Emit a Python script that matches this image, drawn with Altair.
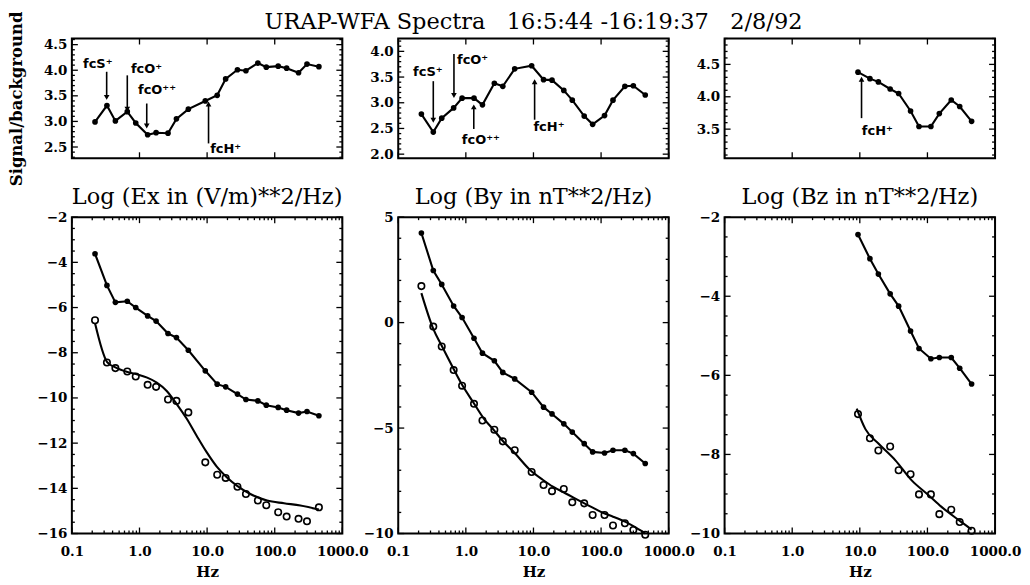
import altair as alt
import numpy as np
import pandas as pd

# ---------------- data ----------------
FREQ = [0.22, 0.33, 0.44, 0.66, 0.88, 1.32, 1.76, 2.64, 3.52, 5.28,
        9.4, 14.1, 18.8, 28.1, 37.5, 56.3, 75.0, 112.5, 150.0, 225.0, 300.0, 450.0]
FREQ_HI = [9.4, 14.1, 18.8, 28.1, 37.5, 56.3, 75.0, 112.5, 150.0, 225.0, 300.0, 450.0]

# signal / background ratios (top row)
SB_EX = [2.99, 3.31, 3.01, 3.19, 2.97, 2.74, 2.78, 2.77, 3.05, 3.24, 3.40,
         3.51, 3.83, 4.01, 3.99, 4.14, 4.06, 4.08, 4.04, 3.95, 4.12, 4.07]
SB_BY = [2.78, 2.43, 2.70, 2.90, 3.09, 3.09, 2.96, 3.38, 3.32, 3.66, 3.72,
         3.45, 3.44, 3.24, 3.05, 2.74, 2.58, 2.75, 3.05, 3.32, 3.33, 3.15]
SB_BZ = [4.38, 4.28, 4.23, 4.12, 4.05, 3.78, 3.54, 3.54, 3.74, 3.95, 3.85, 3.62]

# log spectra (bottom row): signal (filled dots) and background (open circles)
EX_SIG = [-3.62, -5.02, -5.77, -5.72, -6.00, -6.37, -6.60, -7.15, -7.33, -7.89, -8.80,
          -9.39, -9.51, -9.83, -10.07, -10.13, -10.32, -10.42, -10.54, -10.67, -10.60, -10.79]
EX_BG = [-6.56, -8.43, -8.68, -8.83, -9.05, -9.42, -9.51, -10.07, -10.13, -10.64, -12.85,
         -13.40, -13.54, -13.93, -14.25, -14.54, -14.75, -15.06, -15.25, -15.35, -15.46, -14.84]
EX_FIT_F = [0.22, 0.33, 0.44, 0.66, 0.91, 1.3, 1.8, 2.53, 3.55, 5.0, 7.0, 9.9,
            13.9, 19.5, 27.5, 43.6, 77.0, 137.0, 240.0, 450.0]
EX_FIT = [-6.70, -8.40, -8.65, -8.85, -8.95, -9.10, -9.32, -9.69, -10.27, -10.92, -11.67, -12.41,
          -13.04, -13.51, -13.88, -14.25, -14.54, -14.66, -14.76, -14.94]

BY_SIG = [4.25, 2.47, 1.81, 0.79, 0.24, -0.74, -1.45, -1.81, -2.36, -2.67, -3.30,
          -4.01, -4.33, -4.80, -5.19, -5.74, -6.13, -6.18, -6.05, -6.05, -6.21, -6.68]
BY_BG = [1.73, -0.19, -1.13, -2.25, -2.99, -3.85, -4.64, -5.08, -5.63, -6.05, -7.08,
         -7.70, -7.99, -7.89, -8.52, -8.57, -9.12, -9.12, -9.62, -9.51, -9.83, -10.06]
BY_FIT_F = [0.22, 0.33, 0.44, 0.66, 0.88, 1.3, 1.8, 2.6, 3.5, 5.0, 9.0, 13.7,
            19.4, 30.0, 74.0, 113.0, 150.0, 230.0, 300.0, 450.0]
BY_FIT = [1.40, -0.30, -1.10, -2.20, -2.95, -3.80, -4.50, -5.10, -5.60, -6.10, -7.00, -7.45,
          -7.78, -8.10, -8.76, -9.05, -9.20, -9.45, -9.65, -9.99]

BZ_SIG = [-2.44, -3.05, -3.44, -3.94, -4.25, -4.88, -5.32, -5.58, -5.55, -5.55, -5.82, -6.22]
BZ_BG = [-6.98, -7.59, -7.90, -7.80, -8.40, -8.50, -9.01, -9.01, -9.51, -9.40, -9.71, -9.93]
BZ_FIT_F = [9.0, 12.1, 19.0, 33.6, 58.0, 104.0, 160.0, 285.0, 450.0]
BZ_FIT = [-6.84, -7.36, -7.73, -8.15, -8.65, -9.03, -9.32, -9.65, -9.90]

# gyrofrequency markers (arrows) and their labels, top row
ARR1_F = [0.327, 0.66, 1.28, 10.5]
ARR1_FROM = [3.97, 3.90, 3.35, 2.57]
ARR1_TIP = [3.47, 3.24, 2.91, 3.34]
ARR1_DIR = ["down", "down", "down", "up"]
LAB1_TEXT = ["fcS⁺", "fcO⁺", "fcO⁺⁺", "fcH⁺"]
LAB1_F = [0.146, 0.748, 0.95, 11.1]
LAB1_V = [4.05, 3.94, 3.53, 2.38]

ARR2_F = [0.33, 0.667, 1.31, 10.4]
ARR2_FROM = [3.42, 3.95, 2.49, 2.67]
ARR2_TIP = [2.66, 3.14, 2.92, 3.41]
ARR2_DIR = ["down", "down", "up", "up"]
LAB2_TEXT = ["fcS⁺", "fcO⁺", "fcO⁺⁺", "fcH⁺"]
LAB2_F = [0.166, 0.74, 0.873, 10.0]
LAB2_V = [3.53, 3.75, 2.19, 2.45]

ARR3_F = [10.6]
ARR3_FROM = [3.67]
ARR3_TIP = [4.27]
ARR3_DIR = ["up"]
LAB3_TEXT = ["fcH⁺"]
LAB3_F = [10.7]
LAB3_V = [3.41]

# axis ticks
X_MAJOR = [0.1, 1.0, 10.0, 100.0, 1000.0]
X_MINOR = [m * d for d in [0.1, 1.0, 10.0, 100.0] for m in range(2, 10)]

TITLE_MAIN = "URAP-WFA Spectra\u00a0\u00a0 16:5:44 -16:19:37\u00a0\u00a0 2/8/92"
TITLES_BOT = ["Log (Ex in (V/m)**2/Hz)", "Log (By in nT**2/Hz)", "Log (Bz in nT**2/Hz)"]

# ---------------- styling ----------------
SERIF = "DejaVu Serif"
SANS = "DejaVu Sans"
W = 271
H_TOP = 120
H_BOT = 317
MAJ = 6
MIN = 3


def minor_vals(lo, hi, step, majors):
    vals = np.round(np.arange(np.ceil(lo / step) * step, hi + 1e-9, step), 3)
    return [float(v) for v in vals if all(abs(v - m) > 1e-6 for m in majors)]


def xs():
    return alt.Scale(type="log", domain=[0.1, 1000], nice=False)


def ys(dom):
    return alt.Scale(domain=dom, nice=False, zero=False)


def x_axis(show):
    if not show:
        return None
    return alt.Axis(values=X_MAJOR, labelExpr="format(datum.value, '.1f')", ticks=False, tickSize=0,
                    domain=False, grid=False, labelFont=SERIF, labelFontWeight="bold",
                    labelFontSize=13.5, labelColor="black", labelPadding=11, labelFlush=False,
                    labelOverlap=False, title="Hz", titleFont=SERIF, titleFontWeight="bold",
                    titleFontSize=15, titleColor="black", titlePadding=7)


def y_axis(vals, fmt, title=None):
    kw = dict(values=vals, format=fmt, ticks=False, tickSize=0, domain=False, grid=False,
              labelFont=SERIF, labelFontWeight="bold", labelFontSize=13.5, labelColor="black",
              labelPadding=5, labelFlush=False, labelOverlap=False)
    if title:
        kw.update(title=title, titleFont=SERIF, titleFontWeight="bold", titleFontSize=16.5,
                  titleColor="black", titlePadding=7, minExtent=40, maxExtent=40)
    else:
        kw.update(title=None)
    return alt.Axis(**kw)


def tick_layers(h, ydom, y_major, y_minor, x_minor_on, xax, yax):
    out = []
    xsets = [(X_MAJOR, MAJ)]
    if x_minor_on:
        xsets.append((X_MINOR, MIN))
    for vals, ln in xsets:
        base = alt.Chart(pd.DataFrame({"t": vals})).mark_rule(color="black", strokeWidth=1.3)
        enc = alt.X("t:Q", scale=xs(), axis=xax)
        out.append(base.encode(x=enc, y=alt.value(h), y2=alt.value(h - ln)))
        out.append(base.encode(x=enc, y=alt.value(0), y2=alt.value(ln)))
    for vals, ln in [(y_major, MAJ), (y_minor, MIN)]:
        base = alt.Chart(pd.DataFrame({"t": vals})).mark_rule(color="black", strokeWidth=1.3)
        enc = alt.Y("t:Q", scale=ys(ydom), axis=yax)
        out.append(base.encode(y=enc, x=alt.value(0), x2=alt.value(ln)))
        out.append(base.encode(y=enc, x=alt.value(W), x2=alt.value(W - ln)))
    return out


def dots_line(freq, vals, ydom, xax, yax):
    df = pd.DataFrame({"f": freq, "v": vals})
    base = alt.Chart(df).encode(x=alt.X("f:Q", scale=xs(), axis=xax),
                                y=alt.Y("v:Q", scale=ys(ydom), axis=yax))
    return [base.mark_line(color="black", strokeWidth=2.1),
            base.mark_circle(color="black", size=32, opacity=1)]


def open_fit(freq, vals, fit_f, fit_v, ydom, xax, yax):
    pts = alt.Chart(pd.DataFrame({"f": freq, "v": vals})).mark_point(
        shape="circle", filled=False, color="black", size=42, strokeWidth=1.6, opacity=1
    ).encode(x=alt.X("f:Q", scale=xs(), axis=xax), y=alt.Y("v:Q", scale=ys(ydom), axis=yax))
    fit = alt.Chart(pd.DataFrame({"f": fit_f, "v": fit_v})).mark_line(
        color="black", strokeWidth=2.1, interpolate="monotone"
    ).encode(x=alt.X("f:Q", scale=xs(), axis=xax), y=alt.Y("v:Q", scale=ys(ydom), axis=yax))
    return [fit, pts]


def arrows(af, afrom, atip, adir, lt, lf, lv, ydom, xax, yax):
    adf = pd.DataFrame({"f": af, "a": afrom, "b": atip, "dir": adir})
    ldf = pd.DataFrame({"f": lf, "v": lv, "txt": lt})
    line = alt.Chart(adf).mark_rule(color="black", strokeWidth=1.6).encode(
        x=alt.X("f:Q", scale=xs(), axis=xax), y=alt.Y("a:Q", scale=ys(ydom), axis=yax), y2="b:Q")
    head = alt.Chart(adf).mark_point(filled=True, color="black", size=32, opacity=1).encode(
        x=alt.X("f:Q", scale=xs(), axis=xax), y=alt.Y("b:Q", scale=ys(ydom), axis=yax),
        shape=alt.Shape("dir:N", scale=alt.Scale(domain=["down", "up"],
                                                 range=["triangle-down", "triangle-up"]), legend=None))
    text = alt.Chart(ldf).mark_text(align="left", baseline="alphabetic", font=SANS,
                                    fontWeight="bold", fontSize=13, color="black").encode(
        x=alt.X("f:Q", scale=xs(), axis=xax), y=alt.Y("v:Q", scale=ys(ydom), axis=yax), text="txt:N")
    return [line, head, text]


def title_params(text, offset):
    return alt.TitleParams(text=text, font=SERIF, fontSize=22.5, fontWeight="normal", color="black",
                           anchor="middle", offset=offset)


def panel(h, dom, y_major, y_minor_step, fmt, x_show, x_minor_on, ytitle, content):
    xax = x_axis(x_show)
    yax = y_axis(y_major, fmt, ytitle)
    layers = tick_layers(h, dom, y_major, minor_vals(dom[0], dom[1], y_minor_step, y_major),
                         x_minor_on, xax, yax)
    for fn in content:
        layers += fn(xax, yax)
    return alt.layer(*layers)


# ---------------- top row ----------------
T1_DOM = [2.28, 4.62]
T1_MAJ = [2.5, 3.0, 3.5, 4.0, 4.5]
t1 = panel(H_TOP, T1_DOM, T1_MAJ, 0.1, ".1f", False, False, "Signal/background", [
    lambda xa, ya: dots_line(FREQ, SB_EX, T1_DOM, xa, ya),
    lambda xa, ya: arrows(ARR1_F, ARR1_FROM, ARR1_TIP, ARR1_DIR, LAB1_TEXT, LAB1_F, LAB1_V, T1_DOM, xa, ya),
]).properties(width=W, height=H_TOP)

T2_DOM = [1.92, 4.25]
T2_MAJ = [2.0, 2.5, 3.0, 3.5, 4.0]
t2 = panel(H_TOP, T2_DOM, T2_MAJ, 0.1, ".1f", False, False, None, [
    lambda xa, ya: dots_line(FREQ, SB_BY, T2_DOM, xa, ya),
    lambda xa, ya: arrows(ARR2_F, ARR2_FROM, ARR2_TIP, ARR2_DIR, LAB2_TEXT, LAB2_F, LAB2_V, T2_DOM, xa, ya),
]).properties(width=W, height=H_TOP, title=title_params(TITLE_MAIN, 4))

T3_DOM = [3.05, 4.9]
T3_MAJ = [3.5, 4.0, 4.5]
t3 = panel(H_TOP, T3_DOM, T3_MAJ, 0.1, ".1f", False, False, None, [
    lambda xa, ya: dots_line(FREQ_HI, SB_BZ, T3_DOM, xa, ya),
    lambda xa, ya: arrows(ARR3_F, ARR3_FROM, ARR3_TIP, ARR3_DIR, LAB3_TEXT, LAB3_F, LAB3_V, T3_DOM, xa, ya),
]).properties(width=W, height=H_TOP)

# ---------------- bottom row ----------------
B1_DOM = [-16, -2]
B1_MAJ = [-16, -14, -12, -10, -8, -6, -4, -2]
b1 = panel(H_BOT, B1_DOM, B1_MAJ, 0.5, "d", True, True, None, [
    lambda xa, ya: dots_line(FREQ, EX_SIG, B1_DOM, xa, ya),
    lambda xa, ya: open_fit(FREQ, EX_BG, EX_FIT_F, EX_FIT, B1_DOM, xa, ya),
]).properties(width=W, height=H_BOT, title=title_params(TITLES_BOT[0], 2))

B2_DOM = [-10, 5]
B2_MAJ = [-10, -5, 0, 5]
b2 = panel(H_BOT, B2_DOM, B2_MAJ, 1.0, "d", True, True, None, [
    lambda xa, ya: dots_line(FREQ, BY_SIG, B2_DOM, xa, ya),
    lambda xa, ya: open_fit(FREQ, BY_BG, BY_FIT_F, BY_FIT, B2_DOM, xa, ya),
]).properties(width=W, height=H_BOT, title=title_params(TITLES_BOT[1], 2))

B3_DOM = [-10, -2]
B3_MAJ = [-10, -8, -6, -4, -2]
b3 = panel(H_BOT, B3_DOM, B3_MAJ, 0.5, "d", True, True, None, [
    lambda xa, ya: dots_line(FREQ_HI, BZ_SIG, B3_DOM, xa, ya),
    lambda xa, ya: open_fit(FREQ_HI, BZ_BG, BZ_FIT_F, BZ_FIT, B3_DOM, xa, ya),
]).properties(width=W, height=H_BOT, title=title_params(TITLES_BOT[2], 2))

chart = alt.concat(
    t1, t2, t3, b1, b2, b3,
    columns=3, spacing={"row": 59, "column": 56}, bounds="flush", align="each",
).properties(
    padding={"left": 0, "top": 1, "right": 0, "bottom": 0},
    background="white",
).configure_view(stroke="black", strokeWidth=2)

chart.save("out.html", embed_options={"renderer": "svg", "actions": False})
